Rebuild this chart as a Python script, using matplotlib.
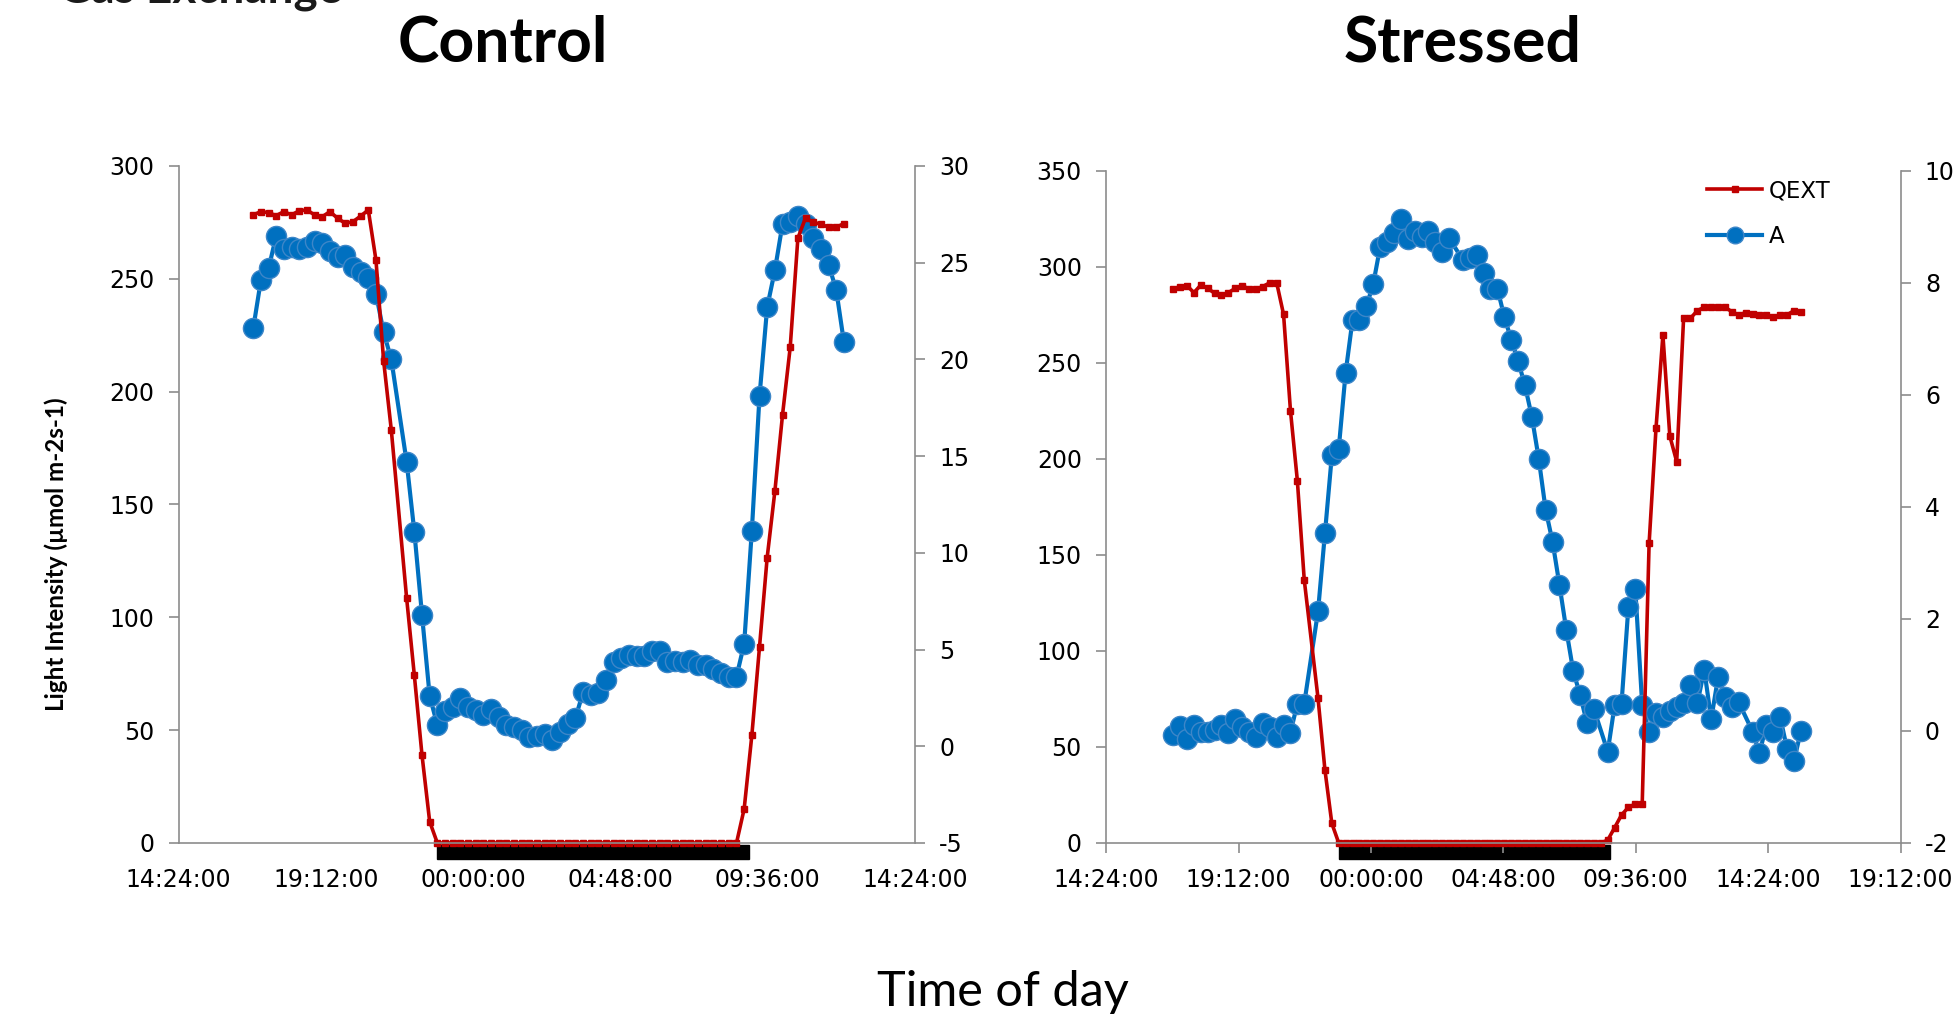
import matplotlib.pyplot as plt
import numpy as np
from matplotlib.lines import Line2D
from matplotlib.patches import Rectangle
from matplotlib.transforms import blended_transform_factory

plt.rcParams['axes.unicode_minus'] = False

# ---- control plant (15 min logging, no record at 21:35) ----
ctrl_time = ["16:50", "17:05", "17:20", "17:35", "17:50", "18:05", "18:20", "18:35", "18:50", "19:05",
             "19:20", "19:35", "19:50", "20:05", "20:20", "20:35", "20:50", "21:05", "21:20",
             "21:50", "22:05", "22:20", "22:35", "22:50", "23:05", "23:20", "23:35", "23:50",
             "00:05", "00:20", "00:35", "00:50", "01:05", "01:20", "01:35", "01:50", "02:05", "02:20", "02:35", "02:50",
             "03:05", "03:20", "03:35", "03:50", "04:05", "04:20", "04:35", "04:50", "05:05", "05:20", "05:35", "05:50",
             "06:05", "06:20", "06:35", "06:50", "07:05", "07:20", "07:35", "07:50", "08:05", "08:20", "08:35", "08:50",
             "09:05", "09:20", "09:35", "09:50", "10:05", "10:20", "10:35", "10:50", "11:05", "11:20", "11:35", "11:50",
             "12:05"]
ctrl_qext = [278.3, 279.8, 279.3, 278.0, 279.8, 278.3, 280.2, 280.5, 278.3, 277.5,
             279.8, 276.8, 274.6, 275.3, 277.8, 280.5, 258.3, 213.6, 183.0,
             108.4, 74.4, 39.0, 9.5, 0, 0, 0, 0, 0,
             0, 0, 0, 0, 0, 0, 0, 0, 0, 0, 0, 0,
             0, 0, 0, 0, 0, 0, 0, 0, 0, 0, 0, 0,
             0, 0, 0, 0, 0, 0, 0, 0, 0, 0, 0, 15.1,
             47.7, 86.9, 126.5, 155.8, 189.7, 219.6, 268.0, 277.0, 275.0, 274.3, 272.8, 272.8,
             274.5]
ctrl_a = [21.6, 24.1, 24.7, 26.4, 25.7, 25.8, 25.7, 25.8, 26.1, 26.0,
          25.6, 25.3, 25.4, 24.8, 24.5, 24.2, 23.4, 21.4, 20.0,
          14.7, 11.1, 6.8, 2.6, 1.1, 1.8, 2.05, 2.5, 2.05,
          1.9, 1.6, 1.95, 1.5, 1.1, 1.0, 0.85, 0.5, 0.55, 0.65, 0.3, 0.75,
          1.15, 1.45, 2.8, 2.65, 2.75, 3.45, 4.35, 4.55, 4.7, 4.65, 4.65, 4.9,
          4.95, 4.35, 4.4, 4.35, 4.45, 4.2, 4.2, 4.0, 3.8, 3.6, 3.6, 5.3,
          11.15, 18.1, 22.7, 24.6, 27.0, 27.1, 27.4, 27.0, 26.3, 25.7, 24.9, 23.6,
          20.9]
ctrl_night = ["22:50", "09:00"]

# ---- stressed plant (no record at 21:50) ----
str_time = ["16:50", "17:05", "17:20", "17:35", "17:50", "18:05", "18:20", "18:35", "18:50", "19:05",
            "19:20", "19:35", "19:50", "20:05", "20:20", "20:35", "20:50", "21:05", "21:20", "21:35",
            "22:05", "22:20", "22:35", "22:50", "23:05", "23:20", "23:35", "23:50",
            "00:05", "00:20", "00:35", "00:50", "01:05", "01:20", "01:35", "01:50", "02:05", "02:20", "02:35", "02:50",
            "03:05", "03:20", "03:35", "03:50", "04:05", "04:20", "04:35", "04:50", "05:05", "05:20", "05:35", "05:50",
            "06:05", "06:20", "06:35", "06:50", "07:05", "07:20", "07:35", "07:50", "08:05", "08:20", "08:35", "08:50",
            "09:05", "09:20", "09:35", "09:50", "10:05", "10:20", "10:35", "10:50", "11:05", "11:20", "11:35", "11:50",
            "12:05", "12:20", "12:35", "12:50", "13:05", "13:20", "13:35", "13:50", "14:05", "14:20", "14:35", "14:50",
            "15:05", "15:20", "15:35"]
str_qext = [288.5, 289.8, 290.3, 286.6, 290.6, 288.9, 286.3, 285.4, 286.6, 288.9,
            290.3, 288.5, 288.5, 289.8, 291.8, 291.8, 275.3, 225.2, 188.7, 137.0,
            75.3, 38.0, 10.2, 0, 0, 0, 0, 0,
            0, 0, 0, 0, 0, 0, 0, 0, 0, 0, 0, 0,
            0, 0, 0, 0, 0, 0, 0, 0, 0, 0, 0, 0,
            0, 0, 0, 0, 0, 0, 0, 0, 0, 0, 1.5, 8.0,
            14.6, 18.6, 20.3, 20.3, 156.1, 216.0, 264.6, 212.0, 198.6, 273.3, 273.3, 277.3,
            279.0, 279.0, 279.0, 279.0, 276.7, 275.0, 276.2, 275.5, 275.0, 275.0, 274.1, 275.0,
            275.0, 277.3, 276.7]
str_a = [-0.07, 0.09, -0.14, 0.11, -0.01, -0.01, 0.02, 0.11, -0.04, 0.21,
         0.08, -0.01, -0.10, 0.14, 0.08, -0.10, 0.11, -0.03, 0.49, 0.49,
         2.14, 3.53, 4.92, 5.04, 6.40, 7.34, 7.34, 7.58,
         7.98, 8.64, 8.74, 8.90, 9.15, 8.78, 8.92, 8.82, 8.92, 8.74, 8.56, 8.80,
         np.nan, 8.41, 8.45, 8.50, 8.18, 7.90, 7.90, 7.40, 6.99, 6.61, 6.17, 5.61,
         4.86, 3.95, 3.38, 2.61, 1.80, 1.07, 0.64, 0.14, 0.39, np.nan, -0.37, 0.46,
         0.49, 2.22, 2.53, 0.46, -0.02, 0.33, 0.25, 0.36, 0.43, 0.50, 0.82, 0.50,
         1.09, 0.21, 0.96, 0.61, 0.42, 0.51, np.nan, -0.01, -0.40, 0.11, -0.02, 0.25,
         -0.32, -0.54, 0.0]
str_night = ["22:50", "08:40"]

ctrl_xlabels = ["14:24:00", "19:12:00", "00:00:00", "04:48:00", "09:36:00", "14:24:00"]
str_xlabels = ["14:24:00", "19:12:00", "00:00:00", "04:48:00", "09:36:00", "14:24:00", "19:12:00"]

RED = '#C00000'
BLUE = '#0070C0'
GREY = '#8C8C8C'


def to_hours(times):
    # clock strings -> hours, rolling over past midnight
    out, day = [], 0
    for s in times:
        h, m = s.split(':')
        v = int(h) + int(m) / 60 + day
        if out and v < out[-1]:
            day += 24
            v += 24
        out.append(v)
    return np.array(out)


fig = plt.figure(figsize=(19.58, 10.17), dpi=100)


def panel(rect, times, qext, a, night, xlabels, ylim1, step1, ylim2, step2, xticks_len):
    ax = fig.add_axes(rect)
    ax2 = ax.twinx()
    ax.set_zorder(ax2.get_zorder() + 1)
    ax.patch.set_visible(False)

    hrs = to_hours(times)
    a = np.array(a, dtype=float)
    ok = ~np.isnan(a)
    ax2.plot(hrs[ok], a[ok], color=BLUE, lw=3, marker='o', ms=14.5,
             mec='#3D86C8', mew=1, clip_on=False)
    ax.plot(hrs, qext, color=RED, lw=2.6, marker='s', ms=5, clip_on=False)

    xt = 14.4 + 4.8 * np.arange(len(xlabels))
    ax.set_xlim(xt[0], xt[-1])
    ax.set_xticks(xt)
    ax.set_xticklabels(xlabels)
    ax.set_ylim(*ylim1)
    ax.set_yticks(np.arange(ylim1[0], ylim1[1] + 1, step1))
    ax2.set_ylim(*ylim2)
    ax2.set_yticks(np.arange(ylim2[0], ylim2[1] + 1, step2))

    for s in ['top', 'right']:
        ax.spines[s].set_visible(False)
    for s in ['top', 'left', 'bottom']:
        ax2.spines[s].set_visible(False)
    for sp in [ax.spines['left'], ax.spines['bottom'], ax2.spines['right']]:
        sp.set_color(GREY)
        sp.set_linewidth(1.2)

    ax.tick_params(axis='y', direction='out', length=7, width=1.2, color=GREY,
                   labelsize=17, pad=10.5)
    ax2.tick_params(axis='y', direction='out', length=7, width=1.2, color=GREY,
                    labelsize=17, pad=10.5)
    ax.tick_params(axis='x', direction='out', length=xticks_len, width=1.2, color=GREY,
                   labelsize=17, pad=18 - xticks_len)

    # dark period bar under the axis
    n0, n1 = to_hours(night)
    tr = blended_transform_factory(ax.transData, ax.transAxes)
    ax.add_patch(Rectangle((n0, -0.024), n1 - n0, 0.021, transform=tr,
                           color='black', clip_on=False, zorder=1))
    return ax, ax2


panel([0.0912, 0.1711, 0.3761, 0.6657], ctrl_time, ctrl_qext, ctrl_a, ctrl_night,
      ctrl_xlabels, (0, 300), 50, (-5, 30), 5, 0)
panel([0.5649, 0.1711, 0.4058, 0.6608], str_time, str_qext, str_a, str_night,
      str_xlabels, (0, 350), 50, (-2, 10), 2, 7)

handles = [Line2D([], [], color=RED, lw=2.6, marker='s', ms=5),
           Line2D([], [], color=BLUE, lw=3, marker='o', ms=12, mec='#3D86C8', mew=1)]
fig.legend(handles, ['QEXT', 'A'], loc='upper left', bbox_to_anchor=(1707 / 1958, 0.8235),
           frameon=False, fontsize=16.5, handlelength=2.4, handletextpad=0.3,
           borderpad=0, borderaxespad=0, labelspacing=1.0)

# heading of the slide, cut by the top edge as in the original
fig.text(58 / 1958, 0.998, 'Gas Exchange', fontsize=33, fontweight='bold',
         family='Lato', va='baseline', color='#1a1a1a')
fig.text(503 / 1958, 1 - 62 / 1017, 'Control', fontsize=45, fontweight='bold',
         family='Lato', ha='center', va='baseline')
fig.text(1463 / 1958, 1 - 62 / 1017, 'Stressed', fontsize=45, fontweight='bold',
         family='Lato', ha='center', va='baseline')
fig.text(56 / 1958, 1 - 554 / 1017, 'Light Intensity (µmol m-2s-1)', fontsize=17.5,
         fontweight='bold', family='Lato', rotation=90, ha='center', va='center')
fig.text(1003 / 1958, 1 - 1006 / 1017, 'Time of day', fontsize=35, family='Lato',
         ha='center', va='baseline')

fig.savefig('out.png', dpi=100, facecolor='white')
